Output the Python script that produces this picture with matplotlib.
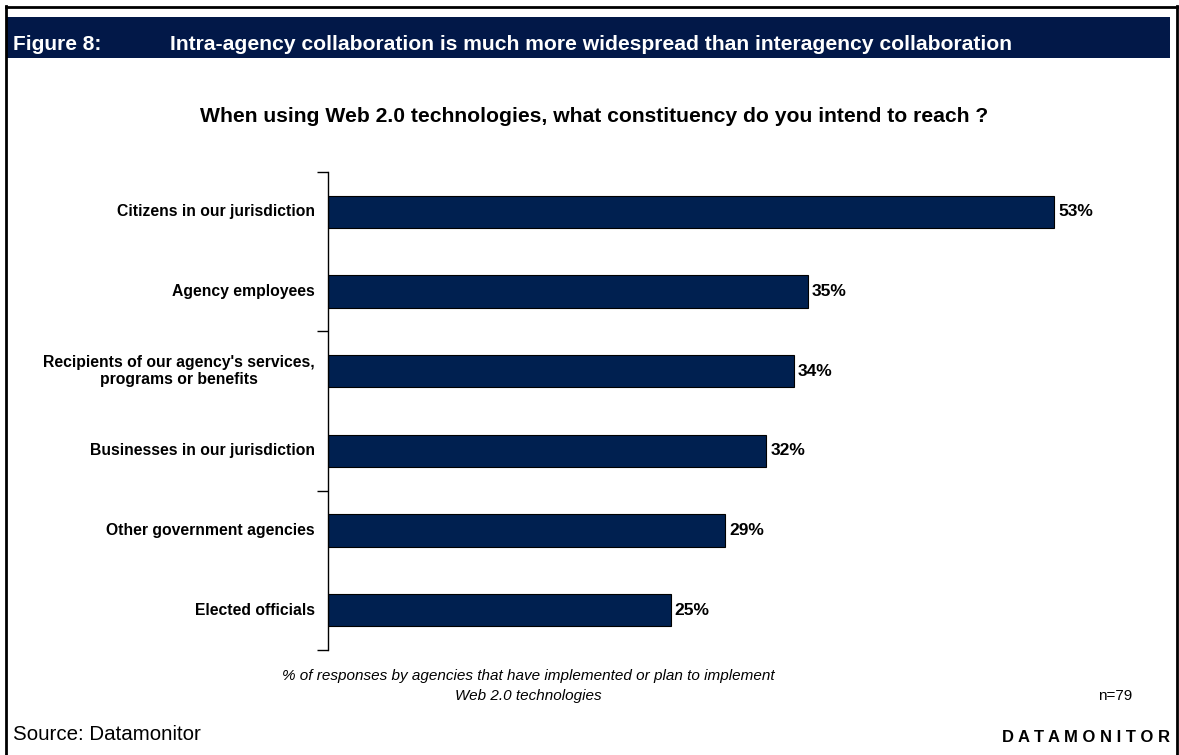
import matplotlib
matplotlib.use("Agg")
import matplotlib.pyplot as plt
from matplotlib.patches import Rectangle
from matplotlib.lines import Line2D

plt.rcParams['font.family'] = ['Liberation Sans', 'DejaVu Sans']

categories = [
    "Citizens in our jurisdiction",
    "Agency employees",
    "Recipients of our agency's services,\nprograms or benefits",
    "Businesses in our jurisdiction",
    "Other government agencies",
    "Elected officials",
]
values = [53, 35, 34, 32, 29, 25]
value_labels = ["53%", "35%", "34%", "32%", "29%", "25%"]

W, H = 1179, 755
fig = plt.figure(figsize=(W / 100, H / 100), dpi=100)
fig.patch.set_facecolor('white')

def fx(x):
    return x / W

def fy(y):
    return 1 - y / H

# outer border lines
fig.add_artist(Line2D([fx(6), fx(6)], [fy(6), 0], color='black', lw=2.0, transform=fig.transFigure))
fig.add_artist(Line2D([fx(6), fx(1177)], [fy(7), fy(7)], color='black', lw=2.0, transform=fig.transFigure))
fig.add_artist(Line2D([fx(1177), fx(1177)], [fy(6), 0], color='black', lw=2.0, transform=fig.transFigure))

# header band
fig.add_artist(Rectangle((fx(7), fy(58)), fx(1170 - 7), (58 - 17) / H,
                         facecolor='#021848', edgecolor='none', transform=fig.transFigure))
fig.text(fx(13), fy(45), "Figure 8:", color='white', fontsize=15, fontweight='bold', va='center', ha='left')
fig.text(fx(170), fy(45), "Intra-agency collaboration is much more widespread than interagency collaboration",
         color='white', fontsize=15.2, fontweight='bold', va='center', ha='left')

# chart title
fig.text(fx(594), fy(116), "When using Web 2.0 technologies, what constituency do you intend to reach ?",
         fontsize=15.2, fontweight='bold', ha='center', va='center')

# axes
ax_left, ax_top, ax_bottom = 328, 172, 650
xmax = 60
px_per = 13.7
ax_right = ax_left + xmax * px_per
ax = fig.add_axes([fx(ax_left), fy(ax_bottom), (ax_right - ax_left) / W, (ax_bottom - ax_top) / H])

n = len(categories)
ypos = list(range(n))
ax.barh(ypos, values, height=0.41, color='#002050', edgecolor='black', linewidth=0.8)
ax.set_ylim(n - 0.5, -0.5)
ax.set_xlim(0, xmax)

for y, v, lab in zip(ypos, values, value_labels):
    ax.text(v + 0.3, y, lab, fontsize=12.5, fontweight='bold', va='center', ha='left')

for s in ['top', 'right', 'bottom']:
    ax.spines[s].set_visible(False)
ax.spines['left'].set_linewidth(1.0)
ax.set_xticks([])
ax.set_yticks([-0.5, 1.5, 3.5, 5.5])
ax.set_yticklabels([])
ax.tick_params(axis='y', direction='out', length=8, width=1.0)

for y, c in zip(ypos, categories):
    ax.text(-0.95, y, c, fontsize=11.3, fontweight='bold', ha='right', va='center',
            multialignment='center', linespacing=1.2)

# footnotes
fig.text(fx(528), fy(676), "% of responses by agencies that have implemented or plan to implement",
         fontsize=11, style='italic', ha='center', va='center')
fig.text(fx(528), fy(696), "Web 2.0 technologies", fontsize=11, style='italic', ha='center', va='center')
fig.text(fx(1132), fy(696), "n=79", fontsize=11, ha='right', va='center')

fig.text(fx(13), fy(735), "Source: Datamonitor", fontsize=14.8, ha='left', va='center')
fig.text(fx(1170), fy(738), "D A T A M O N I T O R", fontsize=12, fontweight='bold', ha='right', va='center')

fig.savefig("out.png", dpi=100, facecolor='white')
